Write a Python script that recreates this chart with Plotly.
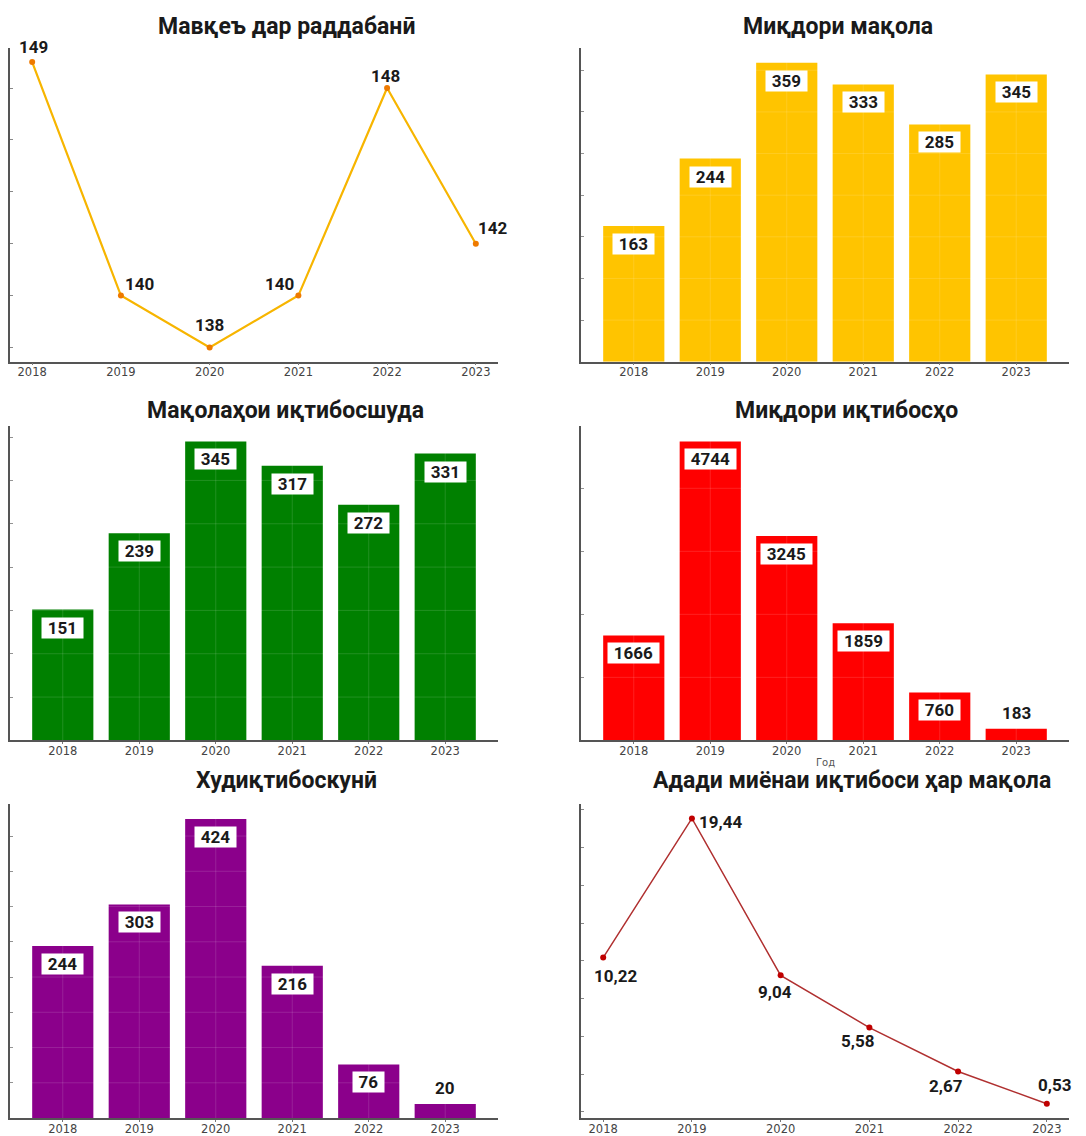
import plotly.graph_objects as go

W, H = 1086, 1136

years = ["2018", "2019", "2020", "2021", "2022", "2023"]
rank = [149, 140, 138, 140, 148, 142]
articles = [163, 244, 359, 333, 285, 345]
cited_articles = [151, 239, 345, 317, 272, 331]
citations = [1666, 4744, 3245, 1859, 760, 183]
self_citations = [244, 303, 424, 216, 76, 20]
avg_citations = [10.22, 19.44, 9.04, 5.58, 2.67, 0.53]

titles = [
    "Мавқеъ дар раддабанӣ",
    "Миқдори мақола",
    "Мақолаҳои иқтибосшуда",
    "Миқдори иқтибосҳо",
    "Худиқтибоскунӣ",
    "Адади миёнаи иқтибоси ҳар мақола",
]

# layout geometry (pixels in the reference picture)
cols = [(10, 498), (581, 1069)]
rows = [(48, 363), (428, 743), (807, 1122)]
title_pos = [(286, 27), (838, 27), (285, 412), (846, 412), (286, 783), (852, 783)]


def px(x):
    return x / W


def py(y):
    return 1 - y / H


fig = go.Figure()
annotations = []
shapes = []

TITLE_FONT = dict(family="Roboto, Arial, sans-serif", size=23, color="#1a1a1a", weight="bold")
LABEL_FONT = dict(family="Roboto, Arial, sans-serif", size=17, color="#1a1a1a", weight="bold")
TICK_FONT = dict(family="DejaVu Sans, sans-serif", size=11.5, color="#444444")

panels = [
    dict(kind="line", values=rank, color="#F7B500", mcolor="#EE7A00", lw=2.2,
         yticks=[138, 140, 142, 144, 146, 148],
         label_shift=[(1, 15), (19, 12), (0, 22), (-19, 12), (-2, 12), (17, 16)],
         fmt=lambda v: str(v)),
    dict(kind="bar", values=articles, color="#FFC400",
         yticks=[50, 100, 150, 200, 250, 300, 350]),
    dict(kind="bar", values=cited_articles, color="#008000",
         yticks=[50, 100, 150, 200, 250, 300, 350]),
    dict(kind="bar", values=citations, color="#FF0000",
         yticks=[1000, 2000, 3000, 4000], xtitle="Год"),
    dict(kind="bar", values=self_citations, color="#8B008B",
         yticks=[50, 100, 150, 200, 250, 300, 350, 400]),
    dict(kind="line", values=avg_citations, color="#B03030", mcolor="#C00000", lw=1.5,
         yticks=[0, 2.5, 5, 7.5, 10, 12.5, 15, 17.5, 20],
         label_shift=[(12, -18), (29, -4), (-6, -17), (-12, -13), (-12, -15), (8, 19)],
         fmt=lambda v: f"{v:.2f}".replace(".", ",")),
]

for i, p in enumerate(panels):
    r, c = divmod(i, 2)
    x0, x1 = cols[c]
    y0, y1 = rows[r]
    n = i + 1
    xa = "x" if n == 1 else f"x{n}"
    ya = "y" if n == 1 else f"y{n}"
    xkey = "xaxis" if n == 1 else f"xaxis{n}"
    ykey = "yaxis" if n == 1 else f"yaxis{n}"
    vals = p["values"]
    vmax, vmin = max(vals), min(vals)

    if p["kind"] == "bar":
        fig.add_trace(go.Bar(x=years, y=vals, marker=dict(color=p["color"], line=dict(width=0)),
                             xaxis=xa, yaxis=ya, showlegend=False, hoverinfo="x+y"))
        xrange = [-0.69, 5.69]
        yrange = [0, vmax * 1.05]
        for j, v in enumerate(vals):
            txt = str(v)
            if v < 0.1 * vmax:
                annotations.append(dict(x=j, y=v, xref=xa, yref=ya, text=txt, showarrow=False,
                                        yanchor="bottom", yshift=4, font=LABEL_FONT))
            else:
                annotations.append(dict(x=j, y=v, xref=xa, yref=ya, text=txt, showarrow=False,
                                        yanchor="top", yshift=-7, font=LABEL_FONT,
                                        bgcolor="white", width=10 * len(txt) + 11, height=20,
                                        borderpad=0))
        # faint grid over bars
        for t in p["yticks"]:
            shapes.append(dict(type="line", xref=f"{xa} domain", yref=ya, x0=0, x1=1, y0=t, y1=t,
                               line=dict(color="rgba(255,255,255,0.13)", width=1), layer="above"))
        for j in range(len(years)):
            shapes.append(dict(type="line", xref=xa, yref=f"{ya} domain", x0=j, x1=j, y0=0, y1=1,
                               line=dict(color="rgba(255,255,255,0.13)", width=1), layer="above"))
    else:
        fig.add_trace(go.Scatter(x=years, y=vals, mode="lines+markers",
                                 line=dict(color=p["color"], width=p["lw"]),
                                 marker=dict(color=p["mcolor"], size=6),
                                 xaxis=xa, yaxis=ya, showlegend=False, cliponaxis=False))
        xrange = [-0.25, 5.25]
        pad = (vmax - vmin) * 0.05
        yrange = [vmin - pad, vmax + pad]
        for j, (v, (dx, dy)) in enumerate(zip(vals, p["label_shift"])):
            annotations.append(dict(x=j, y=v, xref=xa, yref=ya, text=p["fmt"](v), showarrow=False,
                                    xshift=dx, yshift=dy, font=LABEL_FONT))

    fig.layout[xkey] = dict(domain=[px(x0), px(x1)], anchor=ya, range=xrange, type="category",
                            showgrid=False, zeroline=False, showline=True, linecolor="#555555",
                            linewidth=1.5, ticks="outside", ticklen=2, tickcolor="#777777",
                            ticklabelstandoff=-3, tickfont=TICK_FONT, fixedrange=True)
    fig.layout[ykey] = dict(domain=[py(y1), py(y0)], anchor=xa, range=yrange, showgrid=False,
                            zeroline=False, showline=True, linecolor="#555555", linewidth=1.5,
                            ticks="inside", ticklen=3, tickcolor="#888888", tickvals=p["yticks"],
                            showticklabels=False, fixedrange=True)

    tx, ty = title_pos[i]
    annotations.append(dict(x=px(tx), y=py(ty), xref="paper", yref="paper", text=titles[i],
                            showarrow=False, xanchor="center", yanchor="middle", font=TITLE_FONT))

    if p.get("xtitle"):
        annotations.append(dict(x=px((x0 + x1) / 2), y=py(765), xref="paper", yref="paper",
                                text=p["xtitle"], showarrow=False, xanchor="center",
                                yanchor="middle",
                                font=dict(family="DejaVu Sans, sans-serif", size=10, color="#555555")))

fig.update_layout(width=W, height=H, margin=dict(l=0, r=0, t=0, b=0),
                  paper_bgcolor="white", plot_bgcolor="white", bargap=0.2,
                  annotations=annotations, shapes=shapes)

fig.write_html("out.html", config={"displayModeBar": False},
               post_script="document.body.style.margin='0';"
                           "document.documentElement.style.overflow='hidden';")
